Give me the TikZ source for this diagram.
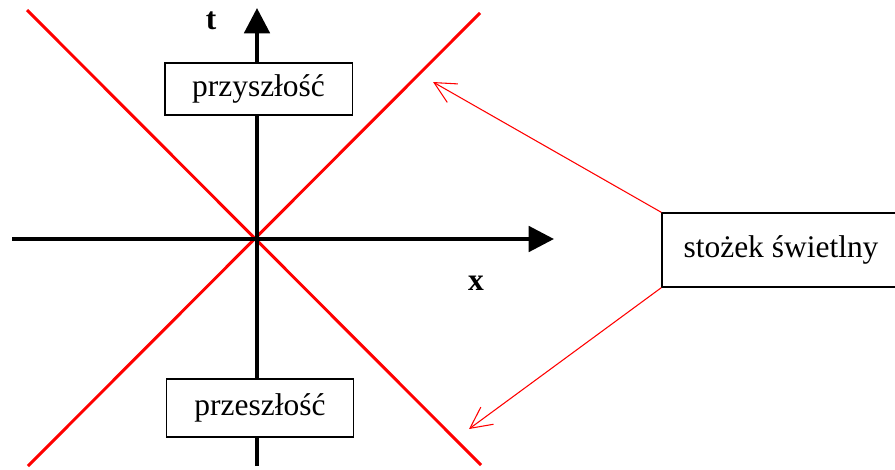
\documentclass[tikz,border=0pt]{standalone}
\usepackage{fontspec}
\setmainfont{Liberation Serif}
\usetikzlibrary{arrows.meta,positioning}

\begin{document}
\begin{tikzpicture}[
  x=0.75pt, y=-0.75pt,
  font=\fontsize{23.6}{28}\selectfont,
  axis/.style={line width=3pt, -{Triangle[length=19pt,width=19pt]}},
  cone/.style={draw=red, line width=2.2pt},
  era/.style={draw, line width=1pt, minimum width=140.5pt, inner sep=0pt},
  pointer/.style={draw=red, line width=0.8pt, -{Straight Barb[length=16pt,width=16pt,line width=0.8pt]}},
  axislabel/.style={font=\fontsize{23.6}{28}\selectfont\bfseries, inner sep=0pt}
]
\useasboundingbox (0,0) rectangle (895,469);

% axes
\coordinate (xstart) at (12,239);
\coordinate (xend) at (554,239);
\coordinate (tstart) at (257,466);
\coordinate (tend) at (257,8);

% light cone
\coordinate (cone-tl) at (27,10);
\coordinate (cone-br) at (481,465);
\coordinate (cone-tr) at (480,13);
\coordinate (cone-bl) at (28,466);
\draw[cone] (cone-tl) -- (cone-br);
\draw[cone] (cone-tr) -- (cone-bl);

\draw[axis] (xstart) -- (xend);
\draw[axis] (tstart) -- (tend);

\node[axislabel] (tlabel) at (211,21) {t};
\node[axislabel] (xlabel) at (476,283) {x};

\node[era, fill=white, minimum height=39pt] (future) at (258.5,89) {przyszłość};
\node[era, fill=white, minimum height=43.5pt] (past) at (260,408) {przeszłość};

\node[draw, line width=1pt, minimum width=178.5pt, minimum height=55.5pt,
  inner sep=0pt] (cone) at (781,250) {stożek świetlny};

\coordinate (future-tip) at (433,82);
\coordinate (past-tip) at (469,429);
\draw[pointer] (cone.north west) -- (future-tip);
\draw[pointer] (cone.south west) -- (past-tip);
\end{tikzpicture}
\end{document}
